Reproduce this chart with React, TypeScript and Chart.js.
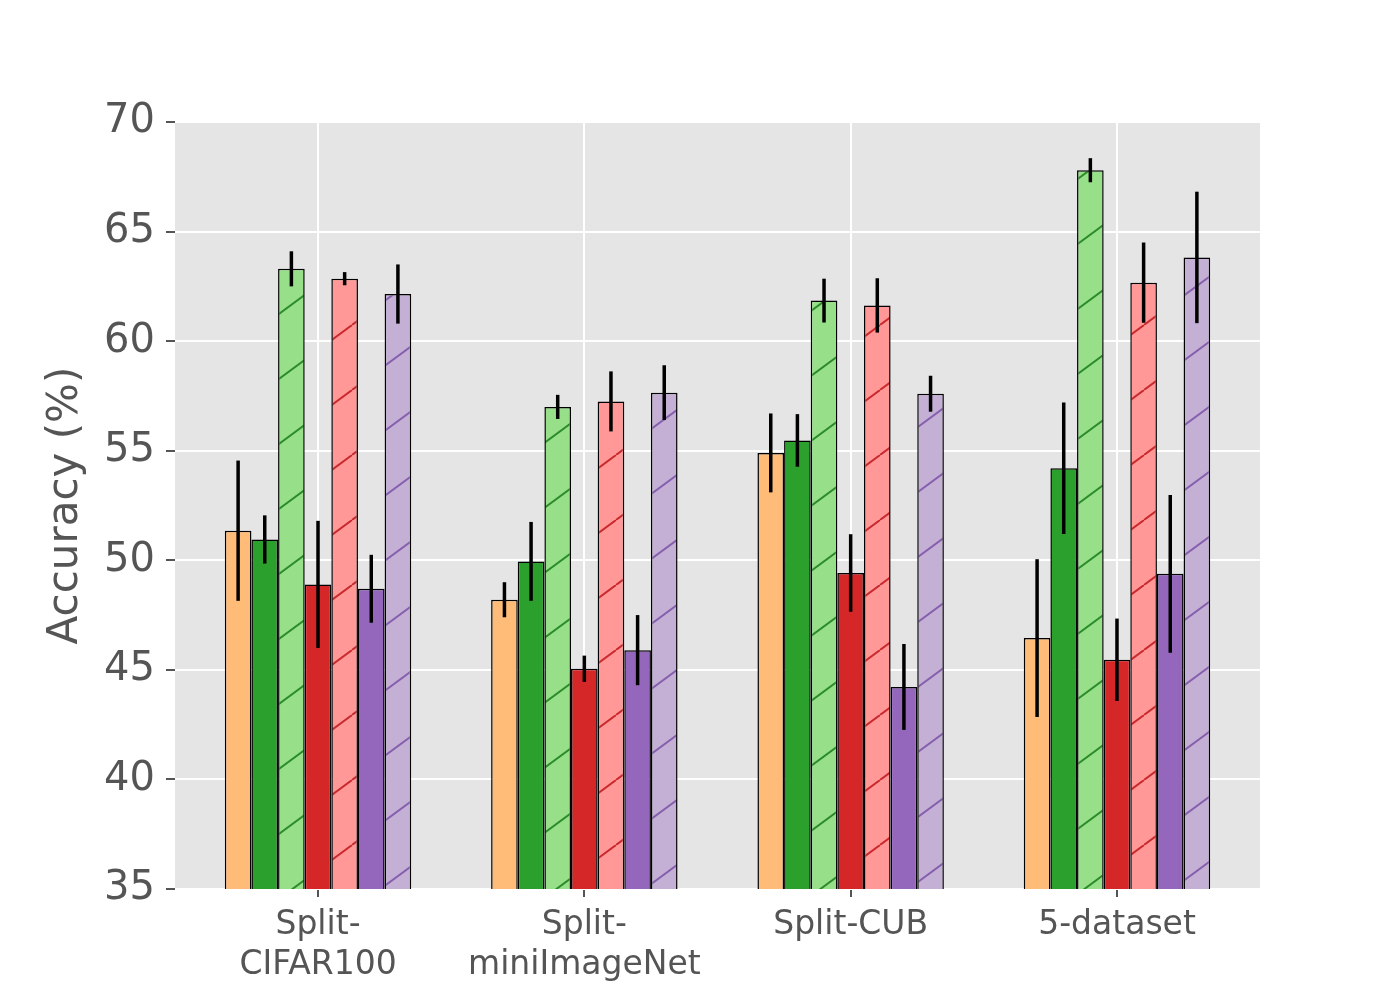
import { useEffect, useRef } from 'react'
import { Chart, registerables, ChartConfiguration } from 'chart.js'

Chart.register(...registerables)

// x categories (multi-line tick labels)
const categories = [['Split-', 'CIFAR100'], ['Split-', 'miniImageNet'], ['Split-CUB'], ['5-dataset']]

// y axis
const yMin = 35
const yMax = 70
const yStep = 5

// bar heights, left to right inside each group
const orangeVals = [51.35, 48.2, 54.9, 46.45]
const orangeErr = [3.2, 0.8, 1.8, 3.6]
const greenVals = [50.95, 49.95, 55.47, 54.2]
const greenErr = [1.1, 1.8, 1.2, 3.0]
const greenHatchVals = [63.3, 57.0, 61.85, 67.8]
const greenHatchErr = [0.8, 0.55, 1.0, 0.55]
const redVals = [48.9, 45.05, 49.42, 45.46]
const redErr = [2.9, 0.6, 1.77, 1.88]
const redHatchVals = [62.85, 57.25, 61.63, 62.67]
const redHatchErr = [0.3, 1.37, 1.24, 1.83]
const purpleVals = [48.7, 45.9, 44.22, 49.38]
const purpleErr = [1.55, 1.6, 1.96, 3.6]
const purpleHatchVals = [62.15, 57.65, 57.6, 63.82]
const purpleHatchErr = [1.35, 1.25, 0.82, 3.0]

const TEXT = '#555555'
const FONT = "'DejaVu Sans', sans-serif"

function makeHatch(bg: string, line: string) {
  const w = 88
  const h = 65
  const c = document.createElement('canvas')
  c.width = w
  c.height = h
  const g = c.getContext('2d')!
  g.fillStyle = bg
  g.fillRect(0, 0, w, h)
  g.strokeStyle = line
  g.lineWidth = 1.9
  for (const dx of [-w, 0, w]) {
    g.beginPath()
    g.moveTo(dx, h)
    g.lineTo(dx + w, 0)
    g.stroke()
  }
  return g.createPattern(c, 'repeat')!
}

const plotBackground = {
  id: 'plotBackground',
  beforeDraw(chart: Chart) {
    const { ctx, chartArea } = chart
    ctx.save()
    ctx.fillStyle = '#e5e5e5'
    ctx.fillRect(chartArea.left, chartArea.top, chartArea.right - chartArea.left, chartArea.bottom - chartArea.top)
    ctx.restore()
  },
}

const errorBars = {
  id: 'errorBars',
  afterDatasetsDraw(chart: Chart) {
    const { ctx } = chart
    const y = chart.scales.y
    ctx.save()
    ctx.strokeStyle = '#000'
    ctx.lineWidth = 3.5
    chart.data.datasets.forEach((ds: any, i) => {
      const meta = chart.getDatasetMeta(i)
      meta.data.forEach((bar: any, j) => {
        const v = ds.data[j].y
        const e = ds.errors[j]
        ctx.beginPath()
        ctx.moveTo(bar.x, y.getPixelForValue(v - e))
        ctx.lineTo(bar.x, y.getPixelForValue(v + e))
        ctx.stroke()
      })
    })
    ctx.restore()
  },
}

export default function App() {
  const chartRef = useRef<HTMLCanvasElement>(null)
  const chartInstance = useRef<Chart | null>(null)

  useEffect(() => {
    if (!chartRef.current) return
    document.body.style.margin = '0'

    if (chartInstance.current) {
      chartInstance.current.destroy()
    }

    const toPoints = (vals: number[]) => vals.map((v, i) => ({ x: i, y: v }))

    const series = [
      { label: 'A', vals: orangeVals, err: orangeErr, fill: '#ffbb78' },
      { label: 'B', vals: greenVals, err: greenErr, fill: '#2ca02c' },
      { label: 'B (hatched)', vals: greenHatchVals, err: greenHatchErr, fill: makeHatch('#98df8a', 'rgba(30,130,30,0.9)') },
      { label: 'C', vals: redVals, err: redErr, fill: '#d62728' },
      { label: 'C (hatched)', vals: redHatchVals, err: redHatchErr, fill: makeHatch('#ff9896', 'rgba(195,28,33,0.9)') },
      { label: 'D', vals: purpleVals, err: purpleErr, fill: '#9467bd' },
      { label: 'D (hatched)', vals: purpleHatchVals, err: purpleHatchErr, fill: makeHatch('#c5b0d5', 'rgba(125,85,170,0.9)') },
    ]

    const config: ChartConfiguration = {
      type: 'bar',
      data: {
        datasets: series.map((s) => ({
          label: s.label,
          data: toPoints(s.vals),
          errors: s.err,
          backgroundColor: s.fill,
          borderColor: '#000',
          borderWidth: 1.5,
          categoryPercentage: 0.7,
          barPercentage: 1.0,
        })) as any,
      },
      options: {
        responsive: false,
        animation: false,
        layout: { padding: { left: 0, top: 122, right: 140, bottom: 0 } },
        plugins: {
          legend: { display: false },
          tooltip: { enabled: false },
        },
        scales: {
          x: {
            type: 'linear',
            min: -0.537,
            max: categories.length - 1 + 0.537,
            offset: false,
            afterBuildTicks: (scale: any) => {
              scale.ticks = categories.map((_, i) => ({ value: i }))
            },
            afterFit: (scale: any) => {
              scale.height = 111
            },
            grid: {
              offset: false,
              color: '#ffffff',
              lineWidth: 2,
              tickColor: TEXT,
              tickWidth: 2,
              tickLength: 8,
            },
            border: { display: false },
            ticks: {
              autoSkip: false,
              maxRotation: 0,
              padding: 9,
              color: TEXT,
              font: { family: FONT, size: 33, lineHeight: 1.2 },
              callback: (value: any) => categories[Number(value)] ?? '',
            },
          },
          y: {
            min: yMin,
            max: yMax,
            afterFit: (scale: any) => {
              scale.width = 175
            },
            grid: {
              color: '#ffffff',
              lineWidth: 2,
              tickColor: TEXT,
              tickWidth: 2,
              tickLength: 9,
            },
            border: { display: false },
            ticks: {
              stepSize: yStep,
              padding: 11,
              color: TEXT,
              font: { family: FONT, size: 40 },
            },
            title: {
              display: true,
              text: 'Accuracy (%)',
              color: TEXT,
              font: { family: FONT, size: 42 },
              padding: { top: 41, bottom: 0 },
            },
          },
        },
      } as any,
      plugins: [plotBackground, errorBars],
    }

    chartInstance.current = new Chart(chartRef.current, config)

    return () => {
      if (chartInstance.current) {
        chartInstance.current.destroy()
        chartInstance.current = null
      }
    }
  }, [])

  return (
    <div style={{ width: 1400, height: 1000, background: '#fff' }}>
      <canvas ref={chartRef} width={1400} height={1000}></canvas>
    </div>
  )
}
